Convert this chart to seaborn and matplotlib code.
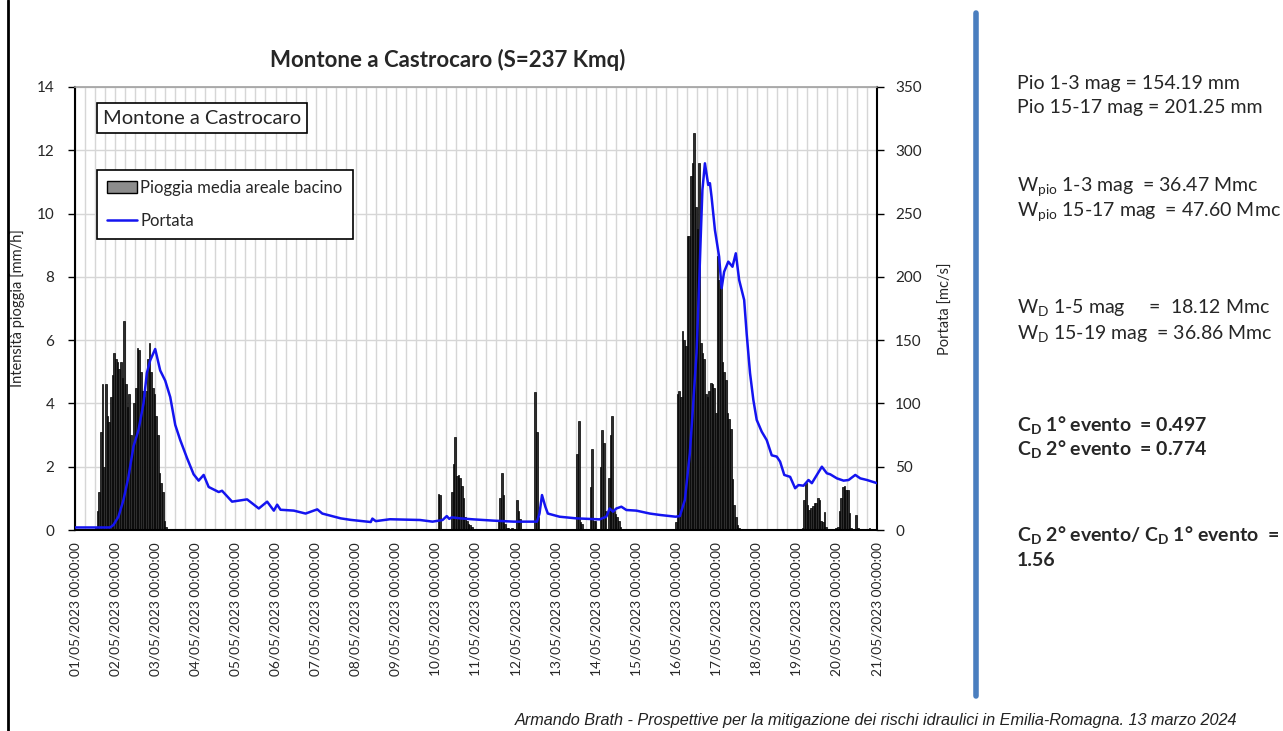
import numpy as np
import pandas as pd
import matplotlib
matplotlib.use("Agg")
import matplotlib.pyplot as plt
import seaborn as sns
from matplotlib.patches import Patch
from matplotlib.lines import Line2D
from matplotlib.ticker import MultipleLocator, FixedLocator

# ---------------- data ----------------
# hourly mean areal rainfall (mm/h); start hour counted from 01/05/2023 00:00
rain_ev1_start = 12
rain_ev1 = [0.1, 0.6, 1.2, 3.1, 4.6, 2.0, 4.6, 3.6, 3.4, 4.2, 4.9, 5.6, 5.4, 5.3, 5.1,
            5.3, 4.8, 6.6, 4.6, 3.9, 4.3, 3.0, 2.5, 4.0, 4.5, 5.75, 5.7, 5.0, 4.4, 4.2,
            4.4, 5.4, 5.9, 5.0, 4.5, 4.3, 3.6, 3.0, 1.8, 1.5, 1.2, 0.3, 0.1]
rain_ev2_start = 217
rain_ev2 = [1.15, 1.1, 0, 0, 0, 0, 0, 0, 1.2, 2.1, 2.95, 1.7, 1.75, 1.65, 1.4, 1.0,
            0.4, 0.3, 0.2, 0.15, 0.1]
rain_ev3_start = 253
rain_ev3 = [0.3, 1.0, 1.8, 1.1, 0.2, 0.05, 0.05, 0, 0.05, 0, 0, 0.95, 0.6, 0.35]
rain_ev4_start = 275
rain_ev4 = [4.35, 3.1, 0.4]
rain_ev5_start = 300
rain_ev5 = [2.4, 3.45, 0.25, 0.2, 0, 0, 0, 0, 1.35, 2.55, 0.3, 0.3, 0, 0, 2.0, 3.15,
            2.75, 0.6, 0, 1.65, 3.0, 3.6, 0.6, 0.5, 0.4, 0.3, 0.1]
rain_ev6_start = 359
rain_ev6 = [0.25, 4.3, 4.4, 4.2, 6.3, 6.0, 5.8, 9.3, 9.3, 11.2, 11.6, 12.55, 10.2, 9.5,
            11.6, 5.9, 5.6, 5.4, 4.3, 4.2, 4.4, 4.65, 4.6, 4.5, 3.7, 8.65, 7.9, 7.75,
            5.3, 5.0, 4.75, 3.7, 3.5, 3.2, 1.6, 0.8, 0.4, 0.15, 0.05]
rain_ev7_start = 435
rain_ev7 = [0.05, 0.95, 1.5, 0.8, 0.63, 0.7, 0.75, 0.85, 0.85, 1.0, 0.95, 0.3, 0.25,
            0.58, 0.1]
rain_ev8_start = 455
rain_ev8 = [0.05, 0.1, 0.6, 1.0, 1.37, 1.4, 1.25, 1.25, 0.55, 0.05, 0, 0, 0.47, 0.05,
            0, 0, 0, 0, 0, 0, 0.05]

# discharge (mc/s) at hours from 01/05/2023 00:00
q_hours = [0, 21, 23, 26, 29, 32, 35, 38, 41, 43, 45, 48, 51, 54, 57, 60, 63, 67, 71, 74,
           77, 80, 86, 88, 94, 103, 110, 115, 119, 121, 123, 131, 138, 145, 148, 159, 165,
           177, 178, 180, 188.5, 206.5, 214, 220, 222.5, 224, 225.5, 230.5, 238.5, 250.5,
           262.5, 276.5, 278, 279.5, 281.5, 283, 290, 300, 314, 318, 320, 322, 324, 327,
           330, 336, 344, 350, 359.5, 362, 365, 368, 370, 372, 373.5, 374.5, 375.5, 377,
           379, 380, 381, 383, 385.5, 387, 388.5, 391, 393.5, 395.5, 397.5, 399, 400.5,
           402, 404, 406, 408, 411, 414, 417, 420, 422, 424.5, 428, 431, 433, 436, 439,
           441, 444, 447, 450, 452, 456, 460, 463, 467, 470, 474, 480]
q_values = [2, 2, 4, 10.5, 23.7, 42, 66, 79, 100, 124, 134, 143, 126, 118, 105, 83, 71, 57,
            44, 39, 43.5, 34, 30, 31, 22.4, 24.2, 17, 22.4, 15.3, 20, 16, 15.3, 13, 16.3,
            13, 9.2, 8, 6.3, 9, 7, 8.5, 7.9, 6.6, 7.9, 11, 8.8, 10, 9.2, 8.4, 7.4, 6.6,
            6.6, 13, 27.6, 18.4, 13, 10.5, 9.2, 8.4, 10.5, 17, 14.5, 17, 18.4, 15.8, 15.3,
            13, 11.9, 10.5, 11, 23.7, 60.8, 100, 140, 192, 231.7, 268.6, 289.7, 272.6,
            274, 263, 237, 216, 191, 204, 212, 208, 218.6, 197.5, 189.6, 181.7, 155, 124,
            102.7, 87, 77.7, 71, 59, 58, 54, 43.5, 42, 33, 35.5, 35, 39.5, 37, 43.5, 50,
            44.8, 44, 40.8, 39, 39.5, 43.5, 40.8, 39.5, 37]

day_labels = [f"{d:02d}/05/2023 00:00:00" for d in range(1, 22)]

# ---------------- build frames ----------------
starts = [rain_ev1_start, rain_ev2_start, rain_ev3_start, rain_ev4_start,
          rain_ev5_start, rain_ev6_start, rain_ev7_start, rain_ev8_start]
events = [rain_ev1, rain_ev2, rain_ev3, rain_ev4, rain_ev5, rain_ev6, rain_ev7, rain_ev8]
rows = []
for s, ev in zip(starts, events):
    for i, v in enumerate(ev):
        rows.append(((s + i + 0.5) / 24.0, v))
rain_df = pd.DataFrame(rows, columns=["giorno", "pioggia"])
q_df = pd.DataFrame({"giorno": np.array(q_hours) / 24.0, "portata": q_values})

# ---------------- style ----------------
sns.set_style("white")
plt.rcParams["font.family"] = ["Lato", "DejaVu Sans"]
plt.rcParams["mathtext.fontset"] = "custom"
plt.rcParams["mathtext.rm"] = "Lato"
plt.rcParams["mathtext.it"] = "Lato:italic"
plt.rcParams["mathtext.bf"] = "Lato:bold"

W, H = 1283, 731
fig = plt.figure(figsize=(W / 100, H / 100), dpi=100)
fig.patch.set_facecolor("white")

def fx(x):
    return x / W

def fy(y):
    return 1 - y / H

L, R, T, B = 75, 877, 87, 530
ax = fig.add_axes([fx(L), fy(B), fx(R) - fx(L), fy(T) - fy(B)])

BLUE = "#1414f0"
sns.histplot(data=rain_df, x="giorno", weights="pioggia", binwidth=1 / 24,
             binrange=(0, 20), ax=ax, color="#2e2e2e", edgecolor="#000000",
             linewidth=0.5, alpha=1.0, legend=False)
ax.set_xlim(0, 20)
ax.set_ylim(0, 14)
ax.set_axisbelow(True)
ax.yaxis.set_major_locator(MultipleLocator(2))
ax.xaxis.set_major_locator(FixedLocator(np.arange(0, 21)))
ax.xaxis.set_minor_locator(MultipleLocator(0.25))
ax.set_xticklabels(day_labels, rotation=90, fontsize=9.9)
ax.grid(True, which="both", axis="x", color="#d6d6d6", linewidth=1)
ax.grid(True, which="major", axis="y", color="#d6d6d6", linewidth=1)
ax.tick_params(axis="x", which="major", length=5, width=1, color="black", pad=4)
ax.tick_params(axis="x", which="minor", length=4, width=0.8, color="black")
ax.tick_params(axis="y", which="major", length=5, width=1, color="black",
               labelsize=11, pad=10)
ax.set_xlabel("")
ax.set_ylabel("Intensità pioggia [mm/h]", fontsize=10.5, labelpad=8)
for side in ["left", "bottom", "right"]:
    ax.spines[side].set_color("black")
    ax.spines[side].set_linewidth(1.5)
ax.spines["top"].set_color("#a0a0a0")
ax.spines["top"].set_linewidth(1.2)

ax2 = ax.twinx()
sns.lineplot(data=q_df, x="giorno", y="portata", ax=ax2, color=BLUE, linewidth=1.8,
             legend=False)
ax2.set_ylim(0, 350)
ax2.set_xlim(0, 20)
ax2.yaxis.set_major_locator(MultipleLocator(50))
ax2.tick_params(axis="y", length=5, width=1, color="black", labelsize=11, pad=8)
ax2.set_ylabel("Portata [mc/s]", fontsize=10.5, labelpad=12)
ax2.set_xlabel("")
for side in ["left", "bottom", "right", "top"]:
    ax2.spines[side].set_visible(False)

handles = [Patch(facecolor="#8c8c8c", edgecolor="black", linewidth=1),
           Line2D([], [], color=BLUE, linewidth=1.8)]
leg = ax2.legend(handles, ["Pioggia media areale bacino", "Portata"],
                 loc="upper left", bbox_to_anchor=((97 - L) / (R - L), (B - 170) / (B - T)),
                 borderaxespad=0, frameon=True, fancybox=False, framealpha=1,
                 edgecolor="black", fontsize=12, handlelength=1.8, labelspacing=1.0,
                 borderpad=0.6, handletextpad=0.2)
leg.get_frame().set_linewidth(1.2)

ax2.text((103 - L) / (R - L), (B - 118) / (B - T), "Montone a Castrocaro",
         transform=ax2.transAxes, ha="left", va="center", fontsize=14.5,
         bbox=dict(boxstyle="square,pad=0.3", fc="white", ec="black", lw=1.2))

fig.text(fx(448), fy(60), "Montone a Castrocaro (S=237 Kmq)", ha="center",
         va="center", fontsize=16, fontweight="bold")

# right-hand annotations
notes = [
    (84, "Pio 1-3 mag = 154.19 mm", "normal"),
    (108, "Pio 15-17 mag = 201.25 mm", "normal"),
    (187, r"W$_{\mathrm{pio}}$ 1-3 mag  = 36.47 Mmc", "normal"),
    (212, r"W$_{\mathrm{pio}}$ 15-17 mag  = 47.60 Mmc", "normal"),
    (308, r"W$_{\mathrm{D}}$ 1-5 mag     =  18.12 Mmc", "normal"),
    (333, r"W$_{\mathrm{D}}$ 15-19 mag  = 36.86 Mmc", "normal"),
    (425, r"C$_{\mathbf{D}}$ 1° evento  = 0.497", "bold"),
    (449, r"C$_{\mathbf{D}}$ 2° evento  = 0.774", "bold"),
    (535, r"C$_{\mathbf{D}}$ 2° evento/ C$_{\mathbf{D}}$ 1° evento  =", "bold"),
    (560, "1.56", "bold"),
]
for y, s, w in notes:
    fig.text(fx(1017), fy(y), s, ha="left", va="center", fontsize=14, fontweight=w)

fig.text(fx(1237), fy(720), "Armando Brath - Prospettive per la mitigazione dei rischi "
         "idraulici in Emilia-Romagna. 13 marzo 2024", ha="right", va="center",
         fontsize=11.7, style="italic", family=["Liberation Sans", "DejaVu Sans"],
         color="#222222")

fig.add_artist(Line2D([fx(976), fx(976)], [fy(13), fy(696)], color="#4a7ebf",
                      linewidth=4))
fig.add_artist(Line2D([fx(8), fx(8)], [0, 1], color="black", linewidth=2))

fig.savefig("out.png", dpi=100, facecolor="white")
